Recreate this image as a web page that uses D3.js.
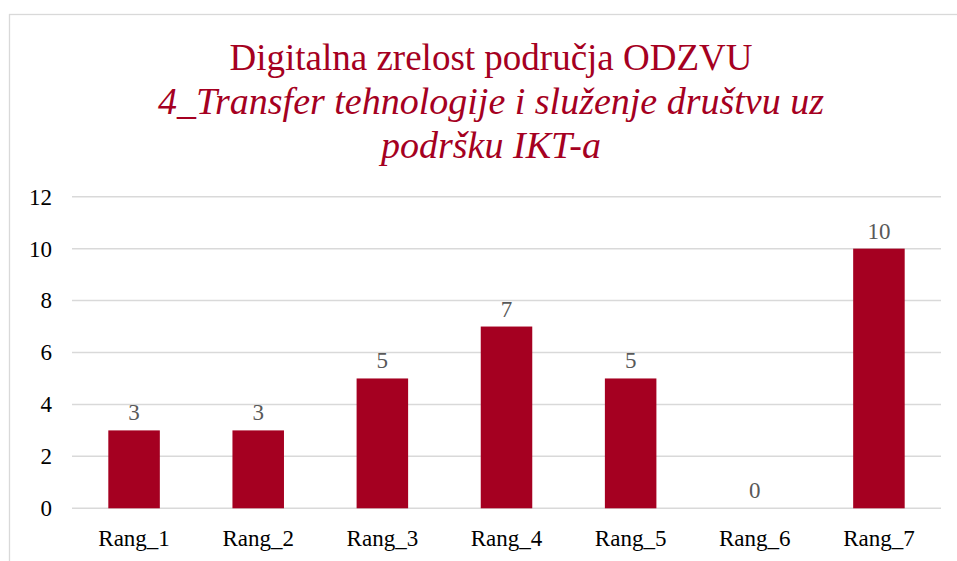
<!DOCTYPE html>
<html><head><meta charset="utf-8">
<script src="https://cdn.jsdelivr.net/npm/d3@7"></script>
<style>html,body{margin:0;padding:0;background:#fff;overflow:hidden}</style>
</head><body>
<script>
const categories = ["Rang_1","Rang_2","Rang_3","Rang_4","Rang_5","Rang_6","Rang_7"];
const values = [3,3,5,7,5,0,10];
const yTicks = [0,2,4,6,8,10,12];
const titleLines = ["Digitalna zrelost područja ODZVU","4_Transfer tehnologije i služenje društvu uz","podršku IKT-a"];

const W = 957, H = 561;
const font = "'Liberation Serif','Times New Roman',serif";
const red = "#a50021";
const svg = d3.select("body").append("svg").attr("width", W).attr("height", H);

svg.append("rect").attr("x", 9.5).attr("y", 14.5).attr("width", 1000).attr("height", 600)
  .attr("fill", "#fff").attr("stroke", "#d9d9d9").attr("stroke-width", 1.3);

const title = svg.append("g");
titleLines.forEach((t, i) => {
  title.append("text").attr("x", 491).attr("y", 70 + i * 44)
    .attr("text-anchor", "middle").attr("font-family", font).attr("font-size", i === 0 ? 37 : 38)
    .attr("font-style", i === 0 ? "normal" : "italic").attr("fill", red).text(t);
});

const x = d3.scaleBand().domain(categories).range([72, 941]).paddingInner(0.585).paddingOuter(0.2925);
const y = d3.scaleLinear().domain([0, 12]).range([508.3, 196.7]);

const grid = svg.append("g");
grid.selectAll("line").data(yTicks).join("line")
  .attr("x1", 72).attr("x2", 941).attr("y1", d => y(d)).attr("y2", d => y(d))
  .attr("stroke", "#d9d9d9").attr("stroke-width", 1.5);

const yAxis = svg.append("g").attr("transform", "translate(72,0)")
  .call(d3.axisLeft(y).tickValues(yTicks).tickSize(0).tickPadding(20));
yAxis.select(".domain").remove();
yAxis.selectAll("text").attr("font-family", font).attr("font-size", 23).attr("fill", "#000");

svg.append("g").selectAll("rect").data(values).join("rect")
  .attr("x", (d, i) => x(categories[i])).attr("width", x.bandwidth())
  .attr("y", d => y(d)).attr("height", d => y(0) - y(d)).attr("fill", red);

svg.append("g").selectAll("text").data(values).join("text")
  .attr("x", (d, i) => x(categories[i]) + x.bandwidth() / 2).attr("y", d => y(d) - 10)
  .attr("text-anchor", "middle").attr("font-family", font).attr("font-size", 23)
  .attr("fill", "#595959").text(d => d);

const xAxis = svg.append("g").attr("transform", `translate(0,${y(0)})`)
  .call(d3.axisBottom(x).tickSize(0).tickPadding(21));
xAxis.select(".domain").remove();
xAxis.selectAll("text").attr("font-family", font).attr("font-size", 23).attr("fill", "#000");
</script>
</body></html>
